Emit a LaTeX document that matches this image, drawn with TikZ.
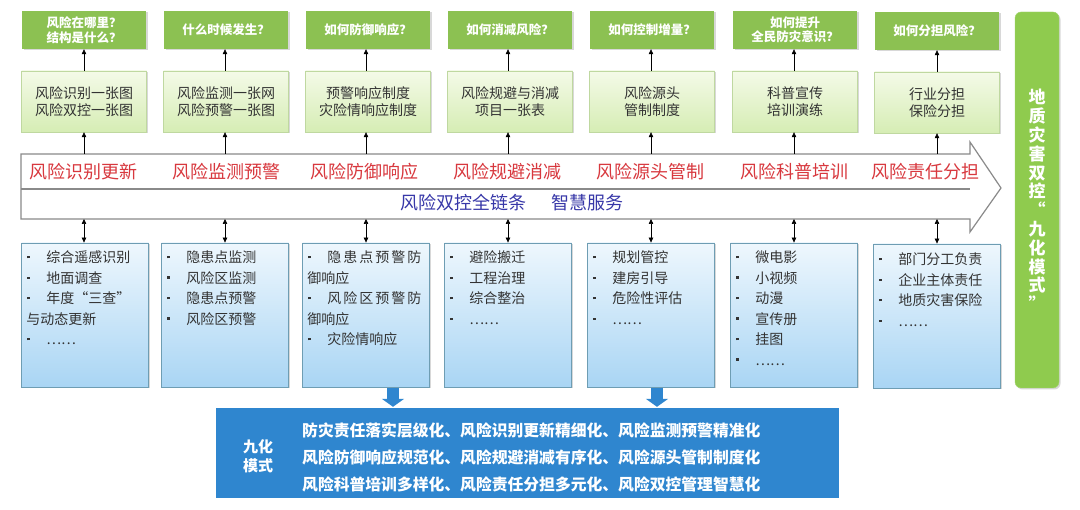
\documentclass[tikz,border=0pt]{standalone}
\usepackage{fontspec}
\setmainfont{Noto Sans CJK SC}
\usetikzlibrary{arrows.meta,shadows}
\definecolor{hdrgreen}{HTML}{8CC152}
\definecolor{sidegreen}{HTML}{8FCB4E}
\definecolor{lgtop}{HTML}{F4FAE8}
\definecolor{lgbot}{HTML}{D6EDB4}
\definecolor{lgborder}{HTML}{BFD8A0}
\definecolor{btop}{HTML}{EEF7FD}
\definecolor{bbot}{HTML}{A9D5F4}
\definecolor{bborder}{HTML}{6E9DB3}
\definecolor{darktext}{HTML}{333333}
\definecolor{redtext}{HTML}{D8383E}
\definecolor{bluetext}{HTML}{3737A8}
\definecolor{ninefill}{HTML}{2F86CF}
\definecolor{bandgray}{HTML}{8A8A8A}
\begin{document}
\begin{tikzpicture}[x=1pt,y=-1pt,
  shd/.style={drop shadow={shadow xshift=1.5pt,shadow yshift=-1.5pt,opacity=0.3}},
  hdr/.style={shd,fill=hdrgreen,text=white,font=\bfseries\fontsize{12.5}{14.5}\selectfont,
    minimum width=124pt,minimum height=38pt,align=center,inner sep=0pt},
  lbox/.style={shd,draw=lgborder,top color=lgtop,bottom color=lgbot,minimum width=125pt,
    minimum height=61pt,align=center,font=\fontsize{14}{17}\selectfont,text=darktext,inner sep=0pt},
  bbox/.style={shd,draw=bborder,line width=0.8pt,top color=btop,bottom color=bbot,
    minimum width=127pt,minimum height=144pt,inner sep=0pt},
  ltxt/.style={font=\fontsize{14}{20.5}\selectfont,align=left,anchor=north west,inner sep=0pt,text=darktext},
  conn/.style={draw=black,line width=0.6pt},
  up/.style={conn,-{Triangle[length=5pt,width=4.5pt]}},
  both/.style={conn,{Triangle[length=5pt,width=4.5pt]}-{Triangle[length=5pt,width=4.5pt]}},
  redt/.style={text=redtext,font=\fontsize{18}{18}\selectfont,inner sep=0pt},
  bluet/.style={text=bluetext,font=\fontsize{18}{18}\selectfont,inner sep=0pt},
  bigarrow/.style={draw=ninefill,line width=12pt,-{Triangle[length=8pt,width=22pt]}},
  ninebox/.style={fill=ninefill,minimum width=623pt,minimum height=90pt,inner sep=0pt},
  ninetxt/.style={text=white,font=\bfseries\fontsize{15.8}{27}\selectfont,align=left,inner sep=0pt},
  sidebar/.style={shd,fill=sidegreen,draw=sidegreen!80!white,rounded corners=6pt,minimum width=44pt,
    minimum height=376pt,inner sep=0pt,text=white,align=center,font=\bfseries\fontsize{17}{18.8}\selectfont}
]
\fill[white] (0,0) rectangle (1080,510);
\useasboundingbox (0,0) rectangle (1080,510);
\newcommand{\bl}{\makebox[20pt][l]{\hspace{1pt}\raisebox{4.2pt}{\rule{2.4pt}{2.4pt}}}}

% headers
\node[hdr] (h1) at (84,30) {风险在哪里？\\结构是什么？};
\node[hdr] (h2) at (226,30) {什么时候发生？};
\node[hdr] (h3) at (368,30) {如何防御响应？};
\node[hdr] (h4) at (510,30) {如何消减风险？};
\node[hdr] (h5) at (652,30) {如何控制增量？};
\node[hdr] (h6) at (795,30) {如何提升\\全民防灾意识？};
\node[hdr] (h7) at (937,31) {如何分担风险？};

% light green boxes
\node[lbox] (l1) at (84,101.5) {风险识别一张图\\风险双控一张图};
\node[lbox] (l2) at (226,101.5) {风险监测一张网\\风险预警一张图};
\node[lbox] (l3) at (368,101.5) {预警响应制度\\灾险情响应制度};
\node[lbox] (l4) at (510,101.5) {风险规避与消减\\项目一张表};
\node[lbox] (l5) at (652,101.5) {风险源头\\管制制度};
\node[lbox] (l6) at (795,101.5) {科普宣传\\培训演练};
\node[lbox] (l7) at (937,102.5) {行业分担\\保险分担};

% band arrow
\draw[draw=bandgray,line width=1.2pt,fill=white,line join=miter]
  (21,154) -- (970,154) -- (970,142) -- (1001,188) -- (970,232) -- (970,219) -- (21,219) -- cycle;
\draw[draw=bandgray,line width=1.2pt] (21,189) -- (970,189);

\node[redt] (r1) at (84,172) {风险识别更新};
\node[redt] (r2) at (226,172) {风险监测预警};
\node[redt] (r3) at (364,172) {风险防御响应};
\node[redt] (r4) at (507,172) {风险规避消减};
\node[redt] (r5) at (650,172) {风险源头管制};
\node[redt] (r6) at (794,172) {风险科普培训};
\node[redt] (r7) at (925,172) {风险责任分担};
\node[bluet] (s1) at (463,203) {风险双控全链条};
\node[bluet] (s2) at (587,203) {智慧服务};

% blue boxes
\node[bbox] (b1) at (85,315) {};
\node[bbox] (b2) at (225,315) {};
\node[bbox] (b3) at (366,315) {};
\node[bbox] (b4) at (508,315) {};
\node[bbox] (b5) at (651,315) {};
\node[bbox] (b6) at (794,315) {};
\node[bbox] (b7) at (937,316) {};

\node[ltxt] (t1) at ([xshift=5pt,yshift=-8pt]b1.north west)
  {\bl 综合遥感识别\\ \bl 地面调查\\ \bl\makebox[84pt][s]{年\hfill 度\hfill “\hfill 三\hfill 查\hfill ”}\\ 与动态更新\\ \bl ……};
\node[ltxt] (t2) at ([xshift=5pt,yshift=-8pt]b2.north west)
  {\bl 隐患点监测\\ \bl 风险区监测\\ \bl 隐患点预警\\ \bl 风险区预警};
\node[ltxt] (t3) at ([xshift=5pt,yshift=-8pt]b3.north west)
  {\bl\makebox[94pt][s]{隐\hfill 患\hfill 点\hfill 预\hfill 警\hfill 防}\\ 御响应\\ \bl\makebox[94pt][s]{风\hfill 险\hfill 区\hfill 预\hfill 警\hfill 防}\\ 御响应\\ \bl 灾险情响应};
\node[ltxt] (t4) at ([xshift=5pt,yshift=-8pt]b4.north west)
  {\bl 避险搬迁\\ \bl 工程治理\\ \bl 综合整治\\ \bl ……};
\node[ltxt] (t5) at ([xshift=5pt,yshift=-8pt]b5.north west)
  {\bl 规划管控\\ \bl 建房引导\\ \bl 危险性评估\\ \bl ……};
\node[ltxt] (t6) at ([xshift=5pt,yshift=-8pt]b6.north west)
  {\bl 微电影\\ \bl 小视频\\ \bl 动漫\\ \bl 宣传册\\ \bl 挂图\\ \bl ……};
\node[ltxt] (t7) at ([xshift=5pt,yshift=-9pt]b7.north west)
  {\bl 部门分工负责\\ \bl 企业主体责任\\ \bl 地质灾害保险\\ \bl ……};

% band attachment coordinates
\coordinate (bt1) at (84,154);  \coordinate (bb1) at (84,219);
\coordinate (bt2) at (225,154); \coordinate (bb2) at (225,219);
\coordinate (bt3) at (366,154); \coordinate (bb3) at (366,219);
\coordinate (bt4) at (508,154); \coordinate (bb4) at (508,219);
\coordinate (bt5) at (651,154); \coordinate (bb5) at (651,219);
\coordinate (bt6) at (794,154); \coordinate (bb6) at (794,219);
\coordinate (bt7) at (937,154); \coordinate (bb7) at (937,219);

% connectors
\foreach \i in {1,...,7}{
  \draw[up] (l\i.north -| bt\i) -- (h\i.south -| bt\i);
  \draw[up] (bt\i) -- (l\i.south -| bt\i);
  \draw[both] (bb\i) -- (b\i.north -| bb\i);
}

% right side bar
\node[sidebar] (side) at (1037,200) {地\\质\\灾\\害\\双\\控\\“\\九\\化\\模\\式\\”};

% bottom summary
\node[ninebox] (nine) at (527,453) {};
\node[ninetxt,align=center,font=\bfseries\fontsize{15}{19}\selectfont] (nl) at (258,456) {九化\\模式};
\node[ninetxt,anchor=west] (nt) at (302,457) {防灾责任落实层级化、风险识别更新精细化、风险监测预警精准化\\风险防御响应规范化、风险规避消减有序化、风险源头管制制度化\\风险科普培训多样化、风险责任分担多元化、风险双控管理智慧化};

\coordinate (ba1) at (393,388);
\coordinate (ba2) at (657,388);
\draw[bigarrow] (ba1) -- ([yshift=1pt]nine.north -| ba1);
\draw[bigarrow] (ba2) -- ([yshift=1pt]nine.north -| ba2);
\end{tikzpicture}
\end{document}
